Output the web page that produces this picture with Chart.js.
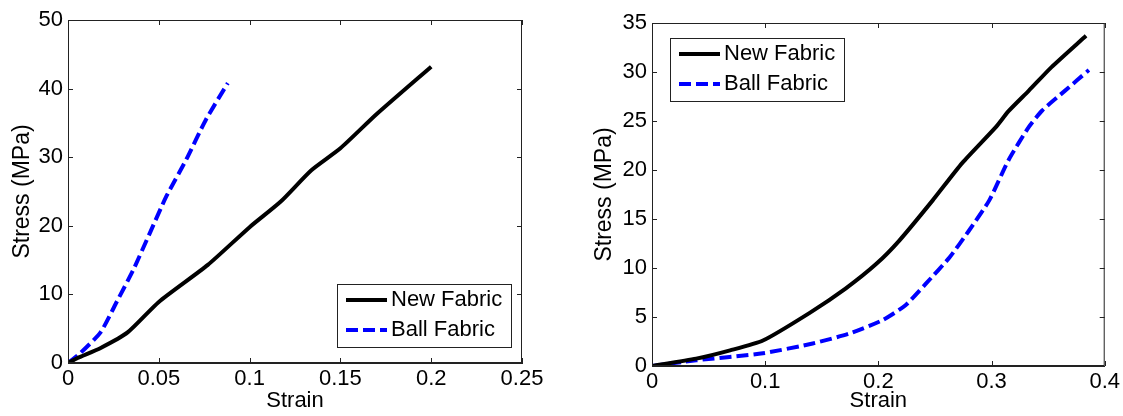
<!DOCTYPE html>
<html lang="en">
<head>
<meta charset="UTF-8" />
<title>Stress vs Strain</title>
<script src="https://cdn.jsdelivr.net/npm/chart.js"></script>
<style>
  body { margin: 0; background: #fff; }
  #wrap { position: relative; width: 1123px; height: 416px; }
  .box { position: absolute; top: 0; height: 416px; }
  #boxLeft { left: 0; width: 560px; }
  #boxRight { left: 560px; width: 563px; }
</style>
</head>
<body>
<div id="wrap">
  <div class="box" id="boxLeft"><canvas id="chartLeft"></canvas></div>
  <div class="box" id="boxRight"><canvas id="chartRight"></canvas></div>
</div>

<script>
  // left panel
  const leftStrainNew = [0, 0.005, 0.018, 0.033, 0.05, 0.077, 0.1, 0.117, 0.134, 0.15, 0.17, 0.2];
  const leftStressNew = [0, 0.7, 2.2, 4.5, 8.9, 14.3, 19.8, 23.5, 28.1, 31.3, 36.3, 43.2];
  const leftStrainBall = [0, 0.007, 0.018, 0.027, 0.036, 0.045, 0.054, 0.065, 0.076, 0.088];
  const leftStressBall = [0, 1.5, 4.5, 9.0, 13.6, 18.9, 24.2, 29.6, 35.5, 40.8];

  // right panel
  const rightStrainNew = [0, 0.039, 0.069, 0.098, 0.139, 0.171, 0.198, 0.2185, 0.248, 0.274, 0.304, 0.315, 0.333, 0.353, 0.3835];
  const rightStressNew = [0, 0.75, 1.6, 2.6, 5.4, 7.9, 10.4, 12.8, 16.9, 20.7, 24.4, 26.0, 28.1, 30.5, 33.7];
  const rightStrainBall = [0, 0.039, 0.098, 0.142, 0.174, 0.204, 0.224, 0.242, 0.263, 0.28, 0.298, 0.315, 0.333, 0.345, 0.365, 0.386];
  const rightStressBall = [0, 0.58, 1.3, 2.3, 3.3, 4.7, 6.2, 8.4, 11.1, 13.8, 16.9, 21.0, 24.4, 26.1, 28.1, 30.2];

  const seriesNames = ['New Fabric', 'Ball Fabric'];

  const FONT = 'Liberation Sans, Arial, sans-serif';
  const AXIS = '#222';

  function pts(xs, ys) {
    return xs.map((x, i) => ({ x: x, y: ys[i] }));
  }

  function fmt(v) {
    return String(+Number(v).toFixed(3));
  }

  // box + inward ticks on all 4 sides, then legend box inside the plot
  const framePlugin = {
    id: 'frame',
    afterDraw(chart, args, opts) {
      const ctx = chart.ctx;
      const a = chart.chartArea;
      const xs = chart.scales.x, ys = chart.scales.y;
      ctx.save();
      ctx.strokeStyle = AXIS;
      ctx.lineWidth = 1;
      ctx.strokeRect(a.left + 0.5, a.top + 0.5, a.right - a.left - 1, a.bottom - a.top - 1);
      const tl = 5;
      ctx.beginPath();
      xs.ticks.forEach(t => {
        const px = Math.round(xs.getPixelForValue(t.value)) + 0.5;
        ctx.moveTo(px, a.bottom); ctx.lineTo(px, a.bottom - tl);
        ctx.moveTo(px, a.top); ctx.lineTo(px, a.top + tl);
      });
      ys.ticks.forEach(t => {
        const py = Math.round(ys.getPixelForValue(t.value)) + 0.5;
        ctx.moveTo(a.left, py); ctx.lineTo(a.left + tl, py);
        ctx.moveTo(a.right, py); ctx.lineTo(a.right - tl, py);
      });
      ctx.stroke();

      // legend
      const w = 174, h = 63;
      const bx = opts.corner === 'br' ? a.right - 11 - w : a.left + 18;
      const by = opts.corner === 'br' ? a.bottom - 16 - h : a.top + 15;
      ctx.fillStyle = '#fff';
      ctx.fillRect(bx, by, w, h);
      ctx.strokeStyle = AXIS;
      ctx.strokeRect(bx + 0.5, by + 0.5, w, h);
      ctx.font = '22px ' + FONT;
      ctx.textBaseline = 'middle';
      chart.data.datasets.forEach((ds, i) => {
        const ry = by + 16 + i * 30;
        ctx.beginPath();
        ctx.strokeStyle = ds.borderColor;
        ctx.lineWidth = 4;
        ctx.setLineDash(ds.borderDash || []);
        ctx.moveTo(bx + 9, ry);
        ctx.lineTo(bx + 50, ry);
        ctx.stroke();
        ctx.setLineDash([]);
        ctx.fillStyle = '#000';
        ctx.fillText(ds.label, bx + 54, ry);
      });
      ctx.restore();
    }
  };

  function makeChart(id, newPts, ballPts, cfg) {
    return new Chart(document.getElementById(id), {
      type: 'line',
      data: {
        datasets: [
          { label: seriesNames[0], data: newPts, borderColor: '#000', borderWidth: 4, pointRadius: 0, tension: 0.2 },
          { label: seriesNames[1], data: ballPts, borderColor: '#0000ff', borderWidth: 4, borderDash: [12, 5], pointRadius: 0, tension: 0.2 }
        ]
      },
      options: {
        responsive: true,
        maintainAspectRatio: false,
        animation: false,
        layout: { padding: { left: 0, top: cfg.top, right: cfg.right, bottom: 0 } },
        plugins: {
          legend: { display: false },
          tooltip: { enabled: false },
          frame: { corner: cfg.corner }
        },
        scales: {
          x: {
            type: 'linear',
            min: 0, max: cfg.xMax,
            grid: { display: false, drawTicks: false },
            border: { display: true, color: AXIS },
            ticks: { stepSize: cfg.xStep, color: '#000', font: { family: FONT, size: 22 }, padding: 3, maxRotation: 0, callback: fmt },
            title: { display: true, text: 'Strain', color: '#000', font: { family: FONT, size: 22 }, padding: { top: 0, bottom: 2 } },
            afterFit: s => { s.height = cfg.xh; }
          },
          y: {
            min: 0, max: cfg.yMax,
            grid: { display: false, drawTicks: false },
            border: { display: true, color: AXIS },
            ticks: { stepSize: cfg.yStep, color: '#000', font: { family: FONT, size: 22 }, padding: 5, callback: fmt },
            title: { display: true, text: 'Stress (MPa)', color: '#000', font: { family: FONT, size: 23 }, padding: { top: cfg.titlePad, bottom: 0 } },
            afterFit: s => { s.width = cfg.yw; }
          }
        }
      },
      plugins: [framePlugin]
    });
  }

  makeChart('chartLeft', pts(leftStrainNew, leftStressNew), pts(leftStrainBall, leftStressBall),
    { xMax: 0.25, xStep: 0.05, yMax: 50, yStep: 10, top: 20, right: 38, xh: 53, yw: 68, titlePad: 9, corner: 'br' });

  makeChart('chartRight', pts(rightStrainNew, rightStressNew), pts(rightStrainBall, rightStressBall),
    { xMax: 0.4, xStep: 0.1, yMax: 35, yStep: 5, top: 23, right: 17, xh: 50, yw: 92, titlePad: 31, corner: 'tl' });
</script>
</body>
</html>
